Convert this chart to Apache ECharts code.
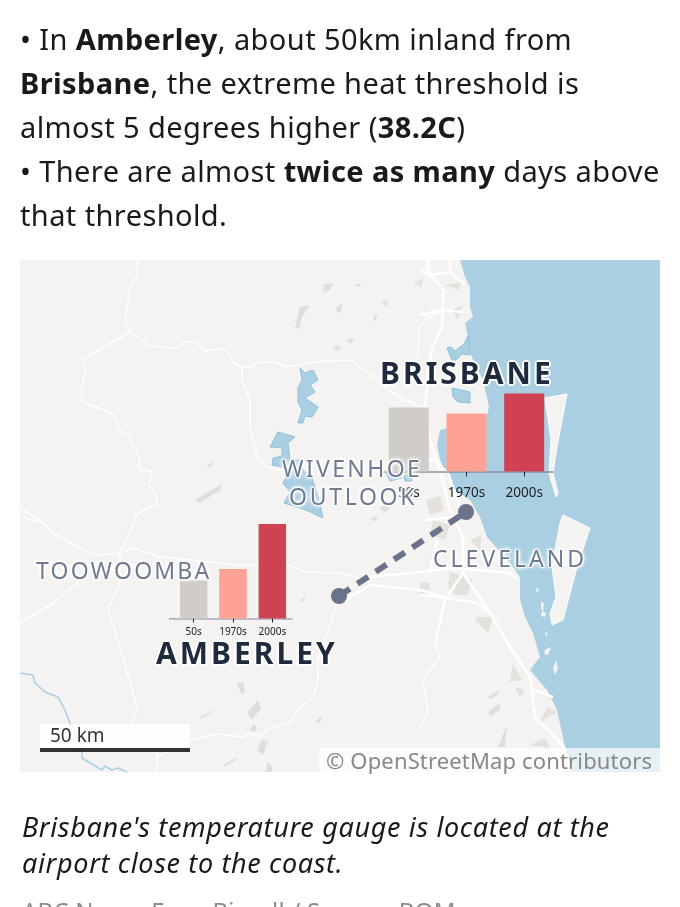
<!doctype html>
<html>
<head>
<meta charset="utf-8">
<title>Extreme heat: Brisbane and Amberley</title>
<script src="https://cdnjs.cloudflare.com/ajax/libs/echarts/6.0.0/echarts.min.js"></script>
<style>
  html, body { margin: 0; padding: 0; background: #fff; width: 680px; height: 907px; overflow: hidden; }
  body { position: relative; font-family: "Noto Sans", sans-serif; }
  #chart { position: absolute; left: 0; top: 0; width: 680px; height: 907px; }
  .txt { position: absolute; white-space: nowrap; }
  #intro { left: 20px; top: 17px; font-size: 29px; letter-spacing: 0.4px; line-height: 44px; color: #1a1a1a; }
  #caption { left: 22px; top: 809px; font-size: 27px; letter-spacing: 0.65px; line-height: 36px; font-style: italic; color: #1a1a1a; }
  #credit { left: 22px; top: 897px; font-size: 24px; letter-spacing: 0.25px; line-height: 28px; color: #8c8c8c; }
  .city { font-size: 30px; font-weight: 700; letter-spacing: 3px; color: #1f2a3d; line-height: 34px;
    text-shadow: -2px 0 #fff, 2px 0 #fff, 0 -2px #fff, 0 2px #fff, -1px -1px #fff, 1px 1px #fff, -1px 1px #fff, 1px -1px #fff; }
  .place { font-size: 23px; color: #6e7a91; line-height: 28px;
    text-shadow: -1px 0 #fff, 1px 0 #fff, 0 -1px #fff, 0 1px #fff, -1px -1px #fff, 1px 1px #fff, 0 0 4px #fff, 0 0 4px #fff, 0 0 4px #fff; }
  #scale { left: 50px; top: 723px; font-size: 19px; line-height: 24px; color: #333; }
  #osm { left: 326px; top: 747px; font-size: 22px; letter-spacing: 0.15px; line-height: 26px; color: #888; }
</style>
</head>
<body>
<div id="chart"></div>
<div class="txt" id="intro">• In <b>Amberley</b>, about 50km inland from<br><b>Brisbane</b>, the extreme heat threshold is<br>almost 5 degrees higher (<b>38.2C</b>)<br>• There are almost <b>twice as many</b> days above<br>that threshold.</div>
<div class="txt city" style="left:380px;top:356px">BRISBANE</div>
<div class="txt city" style="left:156px;top:636px">AMBERLEY</div>
<div class="txt place" style="left:36px;top:556px;letter-spacing:2.2px">TOOWOOMBA</div>
<div class="txt place" style="left:282px;top:454px;letter-spacing:2.4px">WIVENHOE</div>
<div class="txt place" style="left:289px;top:482px;letter-spacing:2.7px">OUTLOOK</div>
<div class="txt place" style="left:433px;top:544px;letter-spacing:3px">CLEVELAND</div>
<div class="txt" id="scale">50 km</div>
<div class="txt" id="osm">© OpenStreetMap contributors</div>
<div class="txt" id="caption">Brisbane's temperature gauge is located at the<br>airport close to the coast.</div>
<div class="txt" id="credit">ABC News: Evan Bissell / Source: BOM</div>
<script>
  // bar data (relative heights, the source prints no axis)
  var decades = ['50s', '1970s', '2000s'];
  var barColors = ['#d0ccc9', '#ffa195', '#cf4254'];
  var brisbaneDays = [64, 58, 78];
  var amberleyDays = [38, 49.5, 94.5];

  // basemap shapes, page pixels
  var sea = [[460,260],[465,277],[470,287],[470,307],[473,317],[465,323],[468,337],[470,353],[483,380],[489,407],[487,415],[470,422],[440,430],[437,445],[440,460],[447,475],[455,490],[470,500],[480,517],[487,537],[510,563],[520,577],[520,600],[525,617],[533,633],[540,657],[530,670],[547,690],[557,710],[565,747],[572,772],[660,772],[660,260]];
  var bigIslands = [
    [[545,398],[567,394],[557,447],[553,473],[558,493],[556,497],[549,473],[551,440]],
    [[563,515],[590,528],[577,567],[563,620],[552,625],[550,613],[556,597],[552,567],[560,523]]
  ];
  var smallIslands = [
    [[536,587],[539,590],[537,593]], [[541,602],[544,603],[543,612],[541,609]],
    [[542,611],[546,613],[545,617],[541,616]], [[545,632],[548,634],[546,637]],
    [[545,650],[551,647],[548,655],[544,654]], [[556,660],[558,668],[555,675],[553,668]]
  ];
  var lakes = [
    [[300,368],[305,373],[313,370],[318,380],[310,385],[315,392],[305,398],[318,407],[312,417],[305,416],[303,423],[298,423],[302,410],[298,402],[298,388],[302,380]],
    [[278,432],[295,437],[288,443],[290,460],[300,460],[303,470],[312,478],[318,497],[323,518],[306,510],[284,503],[290,492],[283,483],[290,470],[283,467],[272,465],[273,458],[282,456],[282,448],[270,447]],
    [[447,348],[451,347],[455,351],[464,344],[468,336],[470,355],[462,354],[456,360],[452,360]],
    [[452,388],[470,392],[470,403],[458,402],[453,397]],
    [[386,473],[392,475],[397,472],[402,478],[390,481]],
    [[404,476],[410,473],[412,481],[405,481]]
  ];
  var greyPatches = [
    [[323,285],[333,283],[330,290],[324,292]], [[300,307],[310,305],[302,317],[299,329],[295,328]],
    [[353,285],[362,283],[359,287]], [[336,308],[343,303],[341,312],[337,313]],
    [[373,317],[378,313],[375,322]], [[347,340],[355,338],[350,344]],
    [[195,500],[222,484],[220,490],[200,503]], [[206,468],[213,460],[212,466]],
    [[237,683],[243,682],[245,692],[241,694]], [[247,713],[258,700],[261,708],[252,720]],
    [[250,730],[253,724],[257,727],[255,732]], [[257,750],[262,740],[268,741],[263,755]],
    [[197,719],[217,708],[205,717]], [[223,765],[237,757],[235,761],[225,766]],
    [[265,772],[268,762],[273,767],[272,772]], [[315,722],[322,715],[320,723]],
    [[488,697],[500,690],[498,695],[490,699]], [[488,712],[500,703],[500,710],[490,717]],
    [[498,747],[507,725],[505,747]], [[300,600],[306,596],[303,602]],
    [[380,508],[390,500],[395,503],[385,513]], [[370,520],[378,515],[376,521]]
  ];
  var urbanPatches = [
    [[380,302],[387,300],[388,308]], [[333,347],[339,345],[341,350],[335,351]],
    [[413,283],[423,278],[422,287]], [[450,572],[473,580],[467,595],[455,595],[448,587]],
    [[420,582],[430,583],[428,595],[420,593]], [[513,663],[522,680],[510,682]],
    [[515,687],[525,690],[520,698]], [[547,707],[557,712],[540,722]],
    [[477,617],[493,617],[488,633],[475,620]], [[426,500],[440,496],[444,510],[430,515]],
    [[445,285],[462,282],[458,290]], [[452,310],[462,305],[458,320]],
    [[433,520],[450,525],[445,540],[430,535]], [[470,540],[482,535],[480,550]],
    [[530,745],[545,738],[550,748]]
  ];
  var minorRoads = [
    [[138,260],[137,277],[131,283],[125,320],[130,332],[137,337],[150,346],[175,348],[185,342],[195,342],[205,351],[223,349],[230,355],[233,362],[242,367],[250,367],[260,362],[275,362],[287,367],[313,362],[350,360],[377,380],[393,393],[425,410]],
    [[130,332],[83,359],[86,367],[81,392],[83,402],[112,413],[120,430],[130,438],[139,457],[140,470],[153,471],[149,485],[157,498],[157,504],[137,514],[135,520],[120,553]],
    [[242,367],[242,380],[250,400],[250,427],[258,460],[268,467],[280,470]],
    [[20,508],[40,520]],
    [[20,517],[43,523],[53,533],[87,552],[98,555],[120,553],[133,548],[160,557],[193,560],[233,565],[287,565],[307,572],[340,573],[360,578]],
    [[120,553],[120,582],[108,610],[115,630],[127,673],[130,680],[137,710],[132,723],[157,753],[157,772]],
    [[100,560],[75,585],[53,603],[33,615],[20,623]],
    [[157,757],[190,740],[217,734],[243,737],[250,733],[260,736],[270,728],[290,723],[298,710],[313,697],[318,680],[318,660],[325,640],[338,600]],
    [[435,643],[440,657],[423,680],[428,713],[420,727]],
    [[443,310],[427,318],[419,327],[418,357]]
  ];
  var mainRoads = [
    [[427,260],[428,270],[443,290],[443,310],[442,327],[432,347],[428,373],[425,410],[430,440],[440,470],[450,510],[463,537],[463,573],[490,613],[510,647],[530,677],[535,717],[565,748]],
    [[450,260],[450,272],[465,285]], [[420,270],[430,275],[450,272]], [[420,315],[443,310],[463,312]],
    [[420,457],[433,460],[448,473],[460,507]],
    [[420,572],[453,568],[510,573],[517,580]], [[420,595],[447,598],[477,603],[490,613]],
    [[463,573],[445,600],[435,643]], [[437,540],[430,573]], [[425,520],[453,517]],
    [[345,600],[370,585],[420,590],[445,597]], [[533,690],[553,697]], [[360,578],[420,572]]
  ];
  var river = [[20,673],[33,675],[35,683],[45,692],[58,697],[65,710],[70,723],[82,747],[82,758],[90,763],[102,770],[105,766],[112,770],[118,768],[127,772]];

  // map sits below the axes and bars
  function poly(points, fill, stroke, z) {
    return { type: 'polygon', silent: true, z: z, shape: { points: points }, style: { fill: fill, stroke: stroke || null, lineWidth: 1 } };
  }
  function line(points, color, width, z) {
    return { type: 'polyline', silent: true, z: z, shape: { points: points }, style: { fill: null, stroke: color, lineWidth: width, lineJoin: 'round' } };
  }

  var LAND = '#f4f3f1', WATER = '#abcfe2', LAKE_EDGE = '#8dc0dc', GREY = '#dcdfe2', URBAN = '#e5e1dd', MARKER = '#6a7389';
  var map = [{ type: 'rect', silent: true, z: -20, shape: { x: 20, y: 260, width: 640, height: 512 }, style: { fill: LAND } }];
  map.push(poly(sea, WATER, null, -19));
  bigIslands.forEach(function (p) { map.push(poly(p, LAND, '#ffffff', -18)); });
  smallIslands.forEach(function (p) { map.push(poly(p, LAND, null, -18)); });
  greyPatches.forEach(function (p) { map.push(poly(p, GREY, null, -17)); });
  urbanPatches.forEach(function (p) { map.push(poly(p, URBAN, null, -17)); });
  lakes.forEach(function (p) { map.push(poly(p, WATER, LAKE_EDGE, -16)); });
  map.push(line(river, '#a9cfe3', 1.5, -16));
  minorRoads.forEach(function (p) { map.push(line(p, '#ffffff', 1.5, -15)); });
  mainRoads.forEach(function (p) { map.push(line(p, '#ffffff', 2.6, -15)); });

  // dashed link between the two gauges
  map.push({ type: 'line', silent: true, z: -10, shape: { x1: 339, y1: 596, x2: 466, y2: 512 }, style: { stroke: MARKER, lineWidth: 6, lineDash: [13, 9] } });
  map.push({ type: 'circle', silent: true, z: -9, shape: { cx: 339, cy: 596, r: 8 }, style: { fill: MARKER } });
  map.push({ type: 'circle', silent: true, z: -9, shape: { cx: 466, cy: 512, r: 8 }, style: { fill: MARKER } });

  // scale bar and attribution boxes
  map.push({ type: 'rect', silent: true, z: -8, shape: { x: 40, y: 724, width: 150, height: 24 }, style: { fill: 'rgba(255,255,255,0.85)' } });
  map.push({ type: 'rect', silent: true, z: -8, shape: { x: 40, y: 748, width: 150, height: 4 }, style: { fill: '#333333' } });
  map.push({ type: 'rect', silent: true, z: -8, shape: { x: 319, y: 748, width: 341, height: 24 }, style: { fill: 'rgba(255,255,255,0.7)' } });
  // the Amberley axis line runs a little past its first band
  map.push({ type: 'rect', silent: true, z: -7, shape: { x: 169, y: 618, width: 6, height: 1.5 }, style: { fill: '#a9aab9' } });

  function xAxisFor(index, fontSize, color, margin, tickLen) {
    return {
      gridIndex: index, type: 'category', data: decades,
      axisLine: { show: true, onZero: false, lineStyle: { color: color, width: 1.5 } },
      axisTick: { show: true, inside: false, interval: 0, alignWithLabel: true, length: tickLen, lineStyle: { color: '#222222', width: 1, opacity: 1 } },
      axisLabel: { fontFamily: 'Noto Sans', fontSize: fontSize, color: '#222222', margin: margin, interval: 0 }
    };
  }
  function yAxisFor(index, max) {
    return { gridIndex: index, type: 'value', min: 0, max: max, show: false };
  }
  function barsFor(index, values, width) {
    return {
      type: 'bar', xAxisIndex: index, yAxisIndex: index, barWidth: width, silent: true, animation: false,
      data: values.map(function (v, i) { return { value: v, itemStyle: { color: barColors[i] } }; })
    };
  }

  var myChart = echarts.init(document.getElementById('chart'));
  myChart.setOption({
    animation: false,
    graphic: { elements: map },
    grid: [
      { left: 380, top: 391.5, width: 173, height: 80 },
      { left: 174, top: 518.5, width: 118, height: 100 }
    ],
    xAxis: [xAxisFor(0, 13.5, '#8a8f9f', 15, 5), xAxisFor(1, 10, '#a9aab9', 9, 4)],
    yAxis: [yAxisFor(0, 80), yAxisFor(1, 100)],
    series: [barsFor(0, brisbaneDays, 40), barsFor(1, amberleyDays, 27.5)]
  });
</script>
</body>
</html>
